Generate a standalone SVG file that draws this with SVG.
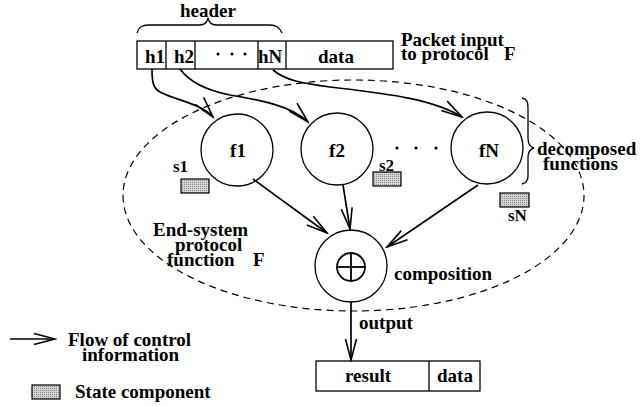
<svg xmlns="http://www.w3.org/2000/svg" width="640" height="407" viewBox="0 0 640 407">
<defs>
<style>
text{font-family:"Liberation Serif","Times New Roman",serif;font-weight:bold;font-size:19px;fill:#000}
.s{font-size:17px}
.ln{fill:none;stroke:#000;stroke-width:1.3}
.cn{fill:none;stroke:#000;stroke-width:1.7;marker-end:url(#arr)}
.st{fill:url(#stip);stroke:#000;stroke-width:1.2}
.dash{fill:none;stroke:#000;stroke-width:1.2;stroke-dasharray:7 5}
</style>
<pattern id="stip" width="2" height="2" patternUnits="userSpaceOnUse">
<rect width="2" height="2" fill="#d4d4d4"/>
<rect width="1" height="1" fill="#8a8a8a"/>
</pattern>
<marker id="arr" markerUnits="userSpaceOnUse" markerWidth="24" markerHeight="14" viewBox="0 0 24 14" refX="22" refY="7" orient="auto">
<path d="M1,1.5 L22,7 L1,12.5" fill="none" stroke="#000" stroke-width="1.6"/>
</marker>
</defs>
<rect width="640" height="407" fill="#fff"/>

<path class="dash" d="M123,195.5 A230.5,115.5 0 1 0 584,195.5 A230.5,115.5 0 1 0 123,195.5 Z"/>

<g id="packet">
<rect class="ln" x="137" y="41" width="256" height="28"/>
<line class="ln" x1="166" y1="41" x2="166" y2="69"/>
<line class="ln" x1="195" y1="41" x2="195" y2="69"/>
<line class="ln" x1="258" y1="41" x2="258" y2="69"/>
<line class="ln" x1="286" y1="41" x2="286" y2="69"/>
<text x="145" y="63">h1</text>
<text x="174" y="63">h2</text>
<circle cx="218" cy="54" r="1.5"/>
<circle cx="232" cy="54" r="1.5"/>
<circle cx="245" cy="54" r="1.5"/>
<text x="258" y="63">hN</text>
<text x="318" y="63">data</text>
<path class="ln" d="M137,33 C139,27 142,25 148,25 L200,25 C205,25 207,22 208,18 C209,22 211,25 216,25 L270,25 C276,25 279,27 282,33"/>
<text x="180" y="17">header</text>
<text x="401" y="46">Packet input</text>
<text x="401" y="60">to protocol</text>
<text x="504" y="60">F</text>
</g>

<g id="f1">
<circle class="ln" cx="237" cy="150" r="36"/>
<text x="238" y="157" text-anchor="middle">f1</text>
</g>
<g id="s1">
<rect class="st" x="181" y="179" width="28" height="14"/>
<text class="s" x="173" y="172">s1</text>
</g>
<g id="f2">
<circle class="ln" cx="337" cy="149" r="36"/>
<text x="337" y="157" text-anchor="middle">f2</text>
</g>
<g id="s2">
<rect class="st" x="373" y="172" width="28" height="14"/>
<text class="s" x="379" y="171">s2</text>
</g>
<g id="dots">
<circle cx="397" cy="148" r="1.6"/>
<circle cx="416" cy="148" r="1.6"/>
<circle cx="436" cy="148" r="1.6"/>
</g>
<g id="fN">
<circle class="ln" cx="487" cy="148" r="36"/>
<text x="489" y="157" text-anchor="middle">fN</text>
</g>
<g id="sN">
<rect class="st" x="500" y="193" width="29" height="14"/>
<text class="s" x="508" y="221">sN</text>
</g>
<g id="decomposed">
<path class="ln" d="M522,98 C527,99 528,102 528,108 L528,138 C528,144 530,147 534,148 C530,149 528,152 528,158 L528,176 C528,181 526,183 522,184"/>
<text x="537" y="155">decomposed</text>
<text x="543" y="170">functions</text>
</g>
<g id="endsystem">
<text x="153" y="236">End-system</text>
<text x="175" y="251">protocol</text>
<text x="167" y="266">function</text>
<text x="253" y="266">F</text>
</g>
<g id="composition">
<circle class="ln" cx="351" cy="266" r="36"/>
<circle cx="351" cy="267" r="14" fill="none" stroke="#000" stroke-width="1.8"/>
<line x1="337" y1="267" x2="365" y2="267" stroke="#000" stroke-width="1.8"/>
<line x1="351" y1="253" x2="351" y2="281" stroke="#000" stroke-width="1.8"/>
<text x="394" y="280">composition</text>
</g>
<g id="result">
<rect class="ln" x="316" y="361" width="164" height="30"/>
<line class="ln" x1="429" y1="361" x2="429" y2="391"/>
<text x="345" y="382">result</text>
<text x="437" y="382">data</text>
</g>
<text x="359" y="329">output</text>

<g id="connectors">
<path class="cn" d="M152,69 C152,82 153,88 160,92 C175,100 202,104 213,117"/>
<path class="cn" d="M180,69 C188,80 205,90 230,95 C260,100 292,106 308,122"/>
<path class="cn" d="M273,70 C285,80 300,83 330,87 C380,93 432,98 462,117"/>
<path class="cn" d="M253,179 L327,233"/>
<path class="cn" d="M343,185 L350,229"/>
<path class="cn" d="M478,185 L387,247"/>
<path class="cn" d="M351,302 L351,360"/>
</g>

<g id="legend">
<path class="cn" d="M10,339 L55,339"/>
<text x="68" y="346">Flow of control</text>
<text x="82" y="361">information</text>
<rect class="st" x="32" y="385" width="28" height="14"/>
<text x="75" y="398">State component</text>
</g>
</svg>
